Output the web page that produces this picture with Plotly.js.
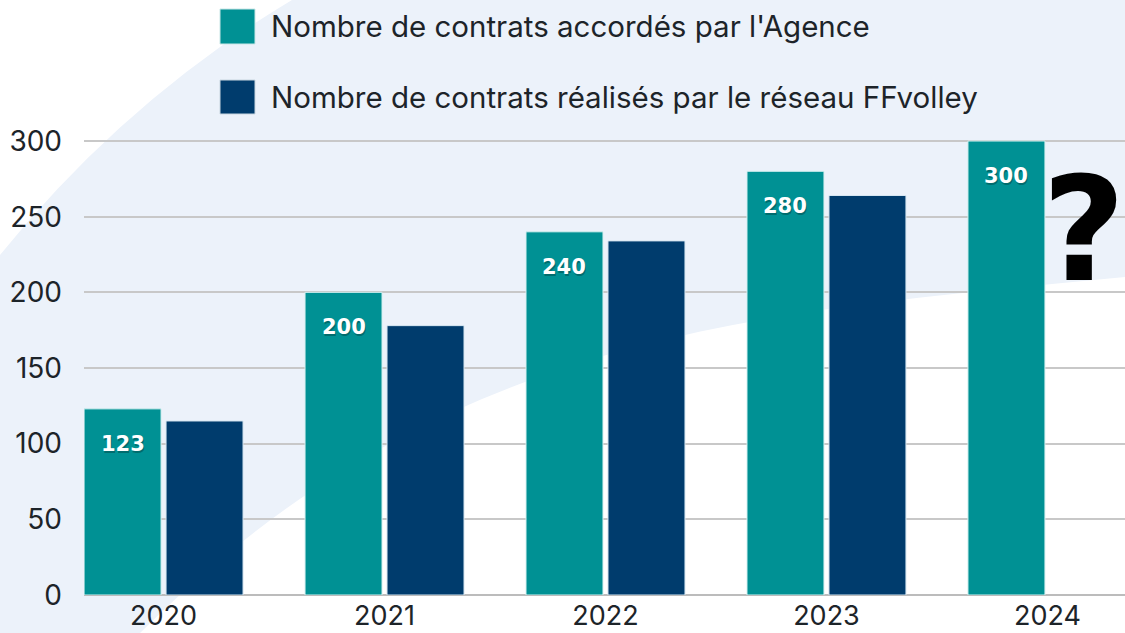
<!DOCTYPE html>
<html>
<head>
<meta charset="utf-8">
<script src="https://cdn.plot.ly/plotly-3.0.1.min.js"></script>
<style>html,body{margin:0;padding:0;background:#fff;}#chart{width:1125px;height:633px;}</style>
</head>
<body>
<div id="chart"></div>
<script>
// ---- data ----
const years = ['2020', '2021', '2022', '2023', '2024'];
const contratsAgence = [123, 200, 240, 280, 300];
const contratsReseau = [115, 178, 234, 264, null];
const seriesNames = [
  "Nombre de contrats accordés par l'Agence",
  "Nombre de contrats réalisés par le réseau FFvolley"
];
const yTicks = [0, 50, 100, 150, 200, 250, 300];

// ---- style ----
const TEAL = '#009194';
const NAVY = '#003c6d';
const TXT = '#1d2429';
const FONT = 'Inter, "Open Sans", sans-serif';

// plot area in pixels (for decorative paper-referenced items)
const L = 84, R = 1125, T = 138, B = 595;
const px = x => (x - L) / (R - L);
const py = y => (B - y) / (B - T);

const traces = [
  {
    type: 'bar', x: years, y: contratsAgence, name: seriesNames[0],
    marker: {color: TEAL, line: {color: '#d6f1f1', width: 1}},
    hoverinfo: 'skip'
  },
  {
    type: 'bar', x: years, y: contratsReseau, name: seriesNames[1],
    marker: {color: NAVY, line: {color: '#d6e6f1', width: 1}},
    hoverinfo: 'skip'
  }
];

// value labels inside teal bars, derived from the data (soft shadow + white text)
const annotations = [];
contratsAgence.forEach((v, i) => {
  annotations.push({
    x: i, y: v, xref: 'x', yref: 'y',
    xshift: -40, yshift: -37,
    text: '<b>' + v + '</b>', showarrow: false,
    xanchor: 'center', yanchor: 'middle',
    font: {family: '"DejaVu Sans", sans-serif', size: 21, color: 'rgba(0,40,40,0.35)'}
  });
  annotations.push({
    x: i, y: v, xref: 'x', yref: 'y',
    xshift: -41, yshift: -35,
    text: '<b>' + v + '</b>', showarrow: false,
    xanchor: 'center', yanchor: 'middle',
    font: {family: '"DejaVu Sans", sans-serif', size: 21, color: '#ffffff'}
  });
});

// legend texts and the question mark
annotations.push(
  {xref: 'paper', yref: 'paper', x: px(269), y: py(26), xanchor: 'left', yanchor: 'middle',
   text: seriesNames[0], showarrow: false, font: {family: FONT, size: 29.5, color: TXT}},
  {xref: 'paper', yref: 'paper', x: px(269), y: py(97), xanchor: 'left', yanchor: 'middle',
   text: seriesNames[1], showarrow: false, font: {family: FONT, size: 29.5, color: TXT}},
  {xref: 'paper', yref: 'paper', x: px(1084), y: py(230), xanchor: 'center', yanchor: 'middle',
   text: '<b>?</b>', showarrow: false, borderpad: 0,
   font: {family: '"DejaVu Sans", sans-serif', size: 144, color: '#000000'}}
);

const P = (x, y) => px(x).toFixed(4) + ',' + py(y).toFixed(4);

const shapes = [
  // white top-left corner
  {type: 'path', xref: 'paper', yref: 'paper', layer: 'below',
   path: 'M' + P(-5, -5) + ' L' + P(292, -5) + ' L' + P(292, 0) +
         ' Q' + P(125, 100) + ' ' + P(0, 255) + ' L' + P(-5, 255) + ' Z',
   fillcolor: '#ffffff', line: {width: 0}},
  // white lower-right region
  {type: 'path', xref: 'paper', yref: 'paper', layer: 'below',
   path: 'M' + P(140, 633) + ' C' + P(450, 323) + ' ' + P(775, 312) + ' ' + P(1125, 277) +
         ' L' + P(1130, 277) + ' L' + P(1130, 640) + ' L' + P(140, 640) + ' Z',
   fillcolor: '#ffffff', line: {width: 0}},
  // legend squares
  {type: 'rect', xref: 'paper', yref: 'paper', layer: 'above',
   x0: px(220), x1: px(255), y0: py(9), y1: py(44),
   fillcolor: TEAL, line: {color: '#c9e6e6', width: 1}},
  {type: 'rect', xref: 'paper', yref: 'paper', layer: 'above',
   x0: px(220), x1: px(255), y0: py(80), y1: py(114),
   fillcolor: NAVY, line: {color: '#c9d6e0', width: 1}}
];

const layout = {
  width: 1125, height: 633,
  margin: {l: L, r: 1125 - R, t: T, b: 633 - B, pad: 0},
  paper_bgcolor: '#ecf2fa',
  plot_bgcolor: 'rgba(0,0,0,0)',
  showlegend: false,
  barmode: 'group',
  bargap: 0.258,
  bargroupgap: 0.061,
  xaxis: {
    type: 'category', range: [-0.36, 4.351],
    showgrid: false, zeroline: false, showline: false,
    ticks: '', ticklabelstandoff: 2,
    tickfont: {family: FONT, size: 27, color: TXT}
  },
  yaxis: {
    range: [0, 302], tickvals: yTicks,
    showgrid: true, gridcolor: '#c8c8c8', gridwidth: 2,
    zeroline: true, zerolinecolor: '#bcbcbc', zerolinewidth: 2,
    showline: false, ticks: '', ticklabelstandoff: 21,
    tickfont: {family: FONT, size: 28, color: TXT}
  },
  shapes: shapes,
  annotations: annotations
};

Plotly.newPlot('chart', traces, layout, {displayModeBar: false, staticPlot: true});
</script>
</body>
</html>
